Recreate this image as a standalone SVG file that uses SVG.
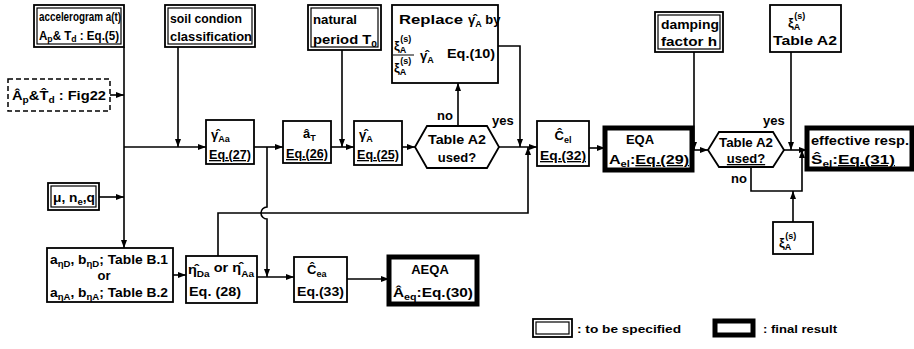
<svg xmlns="http://www.w3.org/2000/svg" width="914" height="349" viewBox="0 0 914 349">
<style>
text{font-family:"Liberation Sans",Arial,sans-serif;font-weight:bold;font-size:13px;fill:#000}
.s{font-size:9px}
.lg{font-size:11px}
.sm{font-size:12px}
.b1{fill:#fff;stroke:#000;stroke-width:1.8}
.dbl{fill:none;stroke:#000;stroke-width:1.2}
.fin{fill:#fff;stroke:#000;stroke-width:5}
.dash{fill:#fff;stroke:#000;stroke-width:1.5;stroke-dasharray:5,3}
.c{fill:none;stroke:#000;stroke-width:1.6}
.u{text-decoration:underline}
</style>
<defs>
<marker id="ah" viewBox="0 0 8 6" refX="8" refY="3" markerWidth="8" markerHeight="6" markerUnits="userSpaceOnUse" orient="auto"><path d="M0,0 L8,3 L0,6 z" fill="#000"/></marker>
</defs>
<rect width="914" height="349" fill="#fff"/>

<g id="connectors" class="c">
<path class="c" d="M124,47 V248" marker-end="url(#ah)"/>
<path class="c" d="M110,95 H124" marker-end="url(#ah)"/>
<path class="c" d="M99,197 H124" marker-end="url(#ah)"/>
<path class="c" d="M124,147 H206" marker-end="url(#ah)"/>
<path class="c" d="M178,47 V147" marker-end="url(#ah)"/>
<path class="c" d="M254,147 H283" marker-end="url(#ah)"/>
<path class="c" d="M267,147 V207 A6,6 0 0 0 267,219 V277" marker-end="url(#ah)"/>
<path class="c" d="M218,256 V213 H528 V147" marker-end="url(#ah)"/>
<path class="c" d="M331,147 H354" marker-end="url(#ah)"/>
<path class="c" d="M342,50 V147" marker-end="url(#ah)"/>
<path class="c" d="M402,147 H415" marker-end="url(#ah)"/>
<path class="c" d="M458,126 V83" marker-end="url(#ah)"/>
<path class="c" d="M498,46 H520 V147" marker-end="url(#ah)"/>
<path class="c" d="M499,147 H537" marker-end="url(#ah)"/>
<path class="c" d="M589,148 H605" marker-end="url(#ah)"/>
<path class="c" d="M692,150 H708" marker-end="url(#ah)"/>
<path class="c" d="M694,52 V150" marker-end="url(#ah)"/>
<path class="c" d="M784,150 H807" marker-end="url(#ah)"/>
<path class="c" d="M791,52 V150" marker-end="url(#ah)"/>
<path class="c" d="M751,167 V191 H802 V150" marker-end="url(#ah)"/>
<path class="c" d="M793,222 V191" marker-end="url(#ah)"/>
<path class="c" d="M173,275 H186" marker-end="url(#ah)"/>
<path class="c" d="M257,277 H294" marker-end="url(#ah)"/>
<path class="c" d="M347,279 H389" marker-end="url(#ah)"/>
</g>

<g id="labels">
<text x="437" y="120">no</text>
<text x="492" y="125">yes</text>
<text x="763" y="125">yes</text>
<text x="731" y="183">no</text>
</g>

<g id="accelerogram">
<rect class="b1" x="34" y="5" width="90" height="42"/>
<rect class="dbl" x="37" y="8" width="84" height="36"/>
<text class="sm" x="39" y="21" textLength="82" lengthAdjust="spacingAndGlyphs">accelerogram a(t)</text>
<text class="sm" x="39" y="40" textLength="80" lengthAdjust="spacingAndGlyphs">A<tspan class="s" dy="2">p</tspan><tspan dy="-2">&amp; T</tspan><tspan class="s" dy="2">d</tspan><tspan dy="-2"> : Eq.(5)</tspan></text>
</g>

<g id="soil">
<rect class="b1" x="165" y="5" width="90" height="42"/>
<rect class="dbl" x="168" y="8" width="84" height="36"/>
<text x="170" y="23" textLength="72" lengthAdjust="spacingAndGlyphs">soil condion</text>
<text x="170" y="41" textLength="82" lengthAdjust="spacingAndGlyphs">classification</text>
</g>

<g id="natural">
<rect class="b1" x="308" y="5" width="73" height="45" stroke-width="3"/>
<rect class="dbl" x="311" y="8" width="67" height="39"/>
<text x="313" y="24" textLength="44" lengthAdjust="spacingAndGlyphs">natural</text>
<text x="313" y="44" textLength="64" lengthAdjust="spacingAndGlyphs">period T<tspan class="s" dy="3">0</tspan></text>
</g>

<g id="replace">
<rect class="b1" x="392" y="5" width="106" height="78"/>
<text x="399" y="24" textLength="64" lengthAdjust="spacingAndGlyphs">Replace</text>
<text x="468" y="24">γ̂<tspan class="s" dy="3">A</tspan><tspan dy="-3"> by</tspan></text>
<text x="394" y="50">ξ<tspan class="s" dy="3">A</tspan><tspan class="s" dx="-6" dy="-11">(s)</tspan></text>
<line x1="393" y1="55" x2="414" y2="55" stroke="#000" stroke-width="1"/>
<text x="394" y="72">ξ<tspan class="s" dy="3">A</tspan><tspan class="s" dx="-6" dy="-11">(s)</tspan></text>
<text x="420" y="60">γ̂<tspan class="s" dy="3">A</tspan></text>
<text x="447" y="58" textLength="48" lengthAdjust="spacingAndGlyphs">Eq.(10)</text>
</g>

<g id="decision1">
<polygon class="b1" points="415,147 427,126 487,126 499,147 487,168 427,168"/>
<text x="457" y="144" text-anchor="middle" textLength="58" lengthAdjust="spacingAndGlyphs">Table A2</text>
<text x="457" y="162" text-anchor="middle">used?</text>
</g>

<g id="cel">
<rect class="b1" x="537" y="121" width="52" height="45"/>
<text x="563" y="140" text-anchor="middle">Ĉ<tspan class="s" dy="3">el</tspan></text>
<text x="540" y="160" class="u" textLength="46" lengthAdjust="spacingAndGlyphs">Eq.(32)</text>
</g>

<g id="eqa">
<rect class="fin" x="605" y="128" width="87" height="42"/>
<text x="640" y="144" text-anchor="middle">EQA</text>
<text x="609" y="164" textLength="80" lengthAdjust="spacingAndGlyphs">A<tspan class="s" dy="3">el</tspan><tspan dy="-3">:</tspan><tspan class="u">Eq.(29)</tspan></text>
</g>

<g id="damping">
<rect class="b1" x="655" y="12" width="68" height="40" stroke-width="3"/>
<rect class="dbl" x="658" y="15" width="62" height="34"/>
<text x="661" y="29" textLength="58" lengthAdjust="spacingAndGlyphs">damping</text>
<text x="661" y="46" textLength="56" lengthAdjust="spacingAndGlyphs">factor h</text>
</g>

<g id="tableA2">
<rect class="b1" x="770" y="5" width="71" height="47"/>
<text x="788" y="27">ξ<tspan class="s" dy="3">A</tspan><tspan class="s" dx="-6" dy="-11">(s)</tspan></text>
<text x="805" y="45" text-anchor="middle" textLength="64" lengthAdjust="spacingAndGlyphs">Table A2</text>
</g>

<g id="decision2">
<polygon class="b1" points="708,150 719,132 773,132 784,150 773,167 719,167"/>
<text x="746" y="147" text-anchor="middle" textLength="54" lengthAdjust="spacingAndGlyphs">Table A2</text>
<text x="746" y="163" text-anchor="middle" class="u">used?</text>
</g>

<g id="effective">
<rect class="fin" x="807" y="128" width="105" height="41"/>
<text x="811" y="145" textLength="98" lengthAdjust="spacingAndGlyphs">effective resp.</text>
<text x="811" y="164" textLength="84" lengthAdjust="spacingAndGlyphs">Ŝ<tspan class="s" dy="3">el</tspan><tspan dy="-3">:</tspan><tspan class="u">Eq.(31)</tspan></text>
</g>

<g id="xiA">
<rect class="b1" x="773" y="222" width="40" height="32"/>
<text x="779" y="247">ξ<tspan class="s" dy="3">A</tspan><tspan class="s" dx="-6" dy="-11">(s)</tspan></text>
</g>

<g id="fig22">
<rect class="dash" x="8" y="79" width="102" height="32"/>
<text x="12" y="100" textLength="94" lengthAdjust="spacingAndGlyphs">Â<tspan class="s" dy="3">p</tspan><tspan dy="-3">&amp;T̂</tspan><tspan class="s" dy="3">d</tspan><tspan dy="-3"> : Fig22</tspan></text>
</g>

<g id="mu">
<rect class="b1" x="48" y="183" width="51" height="27"/>
<rect class="dbl" x="51" y="186" width="45" height="21"/>
<text x="53" y="202" textLength="42" lengthAdjust="spacingAndGlyphs">μ, n<tspan class="s" dy="3">e</tspan><tspan dy="-3">,q</tspan></text>
</g>

<g id="gammaAa">
<rect class="b1" x="206" y="120" width="48" height="44"/>
<text x="211" y="139">γ̂<tspan class="s" dy="3">Aa</tspan></text>
<text x="209" y="159" class="u" textLength="42" lengthAdjust="spacingAndGlyphs">Eq.(27)</text>
</g>

<g id="aT">
<rect class="b1" x="283" y="121" width="48" height="42"/>
<text x="303" y="138">â<tspan class="s" dy="3">T</tspan></text>
<text x="286" y="158" class="u" textLength="42" lengthAdjust="spacingAndGlyphs">Eq.(26)</text>
</g>

<g id="gammaA">
<rect class="b1" x="354" y="121" width="48" height="44"/>
<text x="359" y="139">γ̂<tspan class="s" dy="3">A</tspan></text>
<text x="357" y="159" class="u" textLength="42" lengthAdjust="spacingAndGlyphs">Eq.(25)</text>
</g>

<g id="tableB">
<rect class="b1" x="47" y="248" width="126" height="54"/>
<text x="50" y="264" textLength="118" lengthAdjust="spacingAndGlyphs">a<tspan class="s" dy="3">ηD</tspan><tspan dy="-3">, b</tspan><tspan class="s" dy="3">ηD</tspan><tspan dy="-3">; Table B.1</tspan></text>
<text x="104" y="280" text-anchor="middle">or</text>
<text x="50" y="297" textLength="118" lengthAdjust="spacingAndGlyphs">a<tspan class="s" dy="3">ηA</tspan><tspan dy="-3">, b</tspan><tspan class="s" dy="3">ηA</tspan><tspan dy="-3">; Table B.2</tspan></text>
</g>

<g id="eta">
<rect class="b1" x="186" y="256" width="71" height="47"/>
<text x="188" y="274" textLength="66" lengthAdjust="spacingAndGlyphs">η̂<tspan class="s" dy="3">Da</tspan><tspan dy="-5"> or </tspan><tspan>η̂</tspan><tspan class="s" dy="5">Aa</tspan></text>
<text x="189" y="296" textLength="52" lengthAdjust="spacingAndGlyphs">Eq. (28)</text>
</g>

<g id="cea">
<rect class="b1" x="294" y="257" width="53" height="45"/>
<text x="307" y="274">Ĉ<tspan class="s" dy="3">ea</tspan></text>
<text x="297" y="296" textLength="47" lengthAdjust="spacingAndGlyphs">Eq.(33)</text>
</g>

<g id="aeqa">
<rect class="fin" x="389" y="257" width="88" height="47"/>
<text x="430" y="274" text-anchor="middle">AEQA</text>
<text x="393" y="297" textLength="80" lengthAdjust="spacingAndGlyphs">Â<tspan class="s" dy="3">eq</tspan><tspan dy="-3">:Eq.(30)</tspan></text>
</g>

<g id="legend">
<rect class="b1" x="533" y="319" width="39" height="18"/>
<rect class="dbl" x="536" y="322" width="33" height="12"/>
<text class="lg" x="577" y="333" textLength="104" lengthAdjust="spacingAndGlyphs">: to be specified</text>
<rect class="fin" x="715" y="321" width="38" height="14"/>
<text class="lg" x="763" y="333" textLength="74" lengthAdjust="spacingAndGlyphs">: final result</text>
</g>
</svg>
